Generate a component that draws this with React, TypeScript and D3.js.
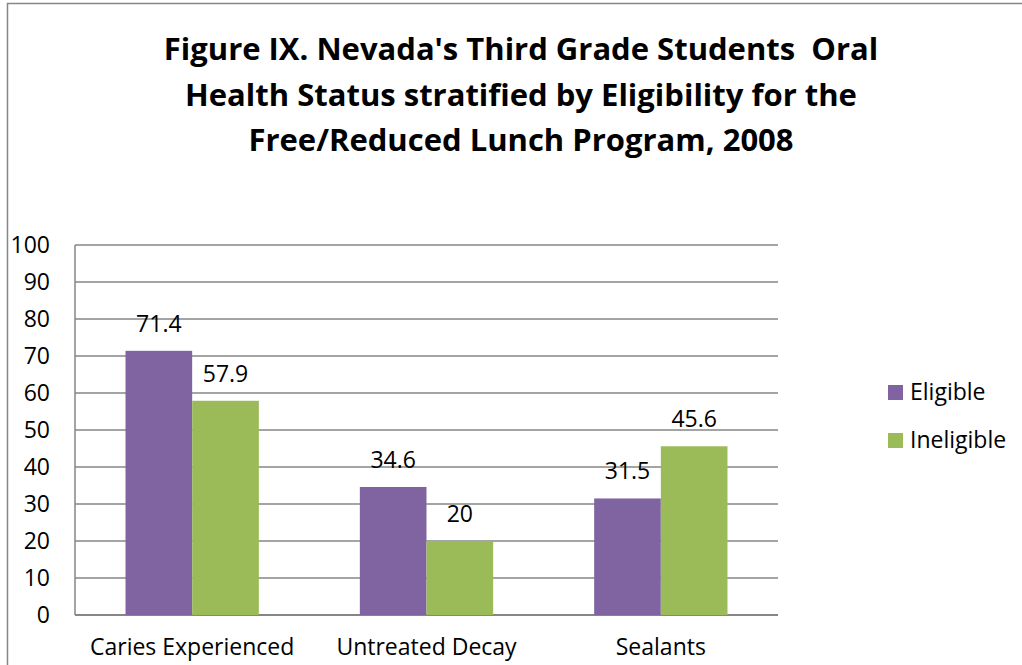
import React from "react";
import * as d3 from "d3";

const categories = ["Caries Experienced", "Untreated Decay", "Sealants"];
const seriesNames = ["Eligible", "Ineligible"];
const eligibleValues = [71.4, 34.6, 31.5];
const ineligibleValues = [57.9, 20, 45.6];
const yTicks = [0, 10, 20, 30, 40, 50, 60, 70, 80, 90, 100];
const titleLines = [
  "Figure IX. Nevada's Third Grade Students  Oral",
  "Health Status stratified by Eligibility for the",
  "Free/Reduced Lunch Program, 2008",
];
const colors = ["#8064A2", "#9BBB59"];

export default function App() {
  const W = 1022;
  const H = 665;
  const left = 75;
  const right = 778;
  const top = 245;
  const bottom = 615;
  const font = "'Open Sans', Lato, sans-serif";
  const fs = 23;

  const y = d3.scaleLinear().domain([0, 100]).range([bottom, top]);
  const x0 = d3
    .scaleBand<string>()
    .domain(categories)
    .range([left, right])
    .paddingInner(0.431)
    .paddingOuter(0.2155);
  const x1 = d3
    .scaleBand<string>()
    .domain(seriesNames)
    .range([0, x0.bandwidth()])
    .padding(0);

  const seriesValues = [eligibleValues, ineligibleValues];

  return (
    <svg
      width={W}
      height={H}
      style={{ position: "absolute", left: 0, top: 0, background: "#fff" }}
    >
      <rect x={0} y={0} width={W} height={H} fill="#fff" />
      <rect
        x={7.5}
        y={3.5}
        width={W + 20}
        height={H + 20}
        fill="none"
        stroke="#868686"
        strokeWidth={1.5}
      />
      {titleLines.map((t, i) => (
        <text
          key={i}
          x={521}
          y={60 + i * 45.5}
          textAnchor="middle"
          fontFamily={font}
          fontWeight="bold"
          fontSize={31}
          fill="#000"
          style={{ whiteSpace: "pre" }}
        >
          {t}
        </text>
      ))}
      {yTicks.map((t) => (
        <line
          key={t}
          x1={left}
          x2={right}
          y1={y(t)}
          y2={y(t)}
          stroke="#868686"
          strokeWidth={t === 0 ? 2 : 1.5}
        />
      ))}
      <line x1={left} x2={left} y1={top} y2={bottom} stroke="#868686" strokeWidth={1.5} />
      {yTicks.map((t) => (
        <text
          key={"l" + t}
          x={50}
          y={y(t)}
          dy="0.36em"
          textAnchor="end"
          fontFamily={font}
          fontSize={fs}
          fill="#000"
        >
          {t}
        </text>
      ))}
      {categories.map((c, ci) => (
        <g key={c} transform={`translate(${x0(c)},0)`}>
          {seriesNames.map((s, si) => {
            const v = seriesValues[si][ci];
            const bx = x1(s)!;
            return (
              <g key={s}>
                <rect
                  x={bx}
                  y={y(v)}
                  width={x1.bandwidth()}
                  height={y(0) - y(v)}
                  fill={colors[si]}
                />
                <text
                  x={bx + x1.bandwidth() / 2}
                  y={y(v) - 19}
                  textAnchor="middle"
                  fontFamily={font}
                  fontSize={fs}
                  fill="#000"
                >
                  {v}
                </text>
              </g>
            );
          })}
        </g>
      ))}
      {categories.map((c) => (
        <text
          key={"c" + c}
          x={x0(c)! + x0.bandwidth() / 2}
          y={655}
          textAnchor="middle"
          fontFamily={font}
          fontSize={fs}
          fill="#000"
        >
          {c}
        </text>
      ))}
      {seriesNames.map((s, i) => (
        <g key={"lg" + s} transform={`translate(888,${385 + i * 48})`}>
          <rect x={0} y={0} width={15} height={15} fill={colors[i]} />
          <text x={22} y={15} fontFamily={font} fontSize={fs} fill="#000">
            {s}
          </text>
        </g>
      ))}
    </svg>
  );
}
